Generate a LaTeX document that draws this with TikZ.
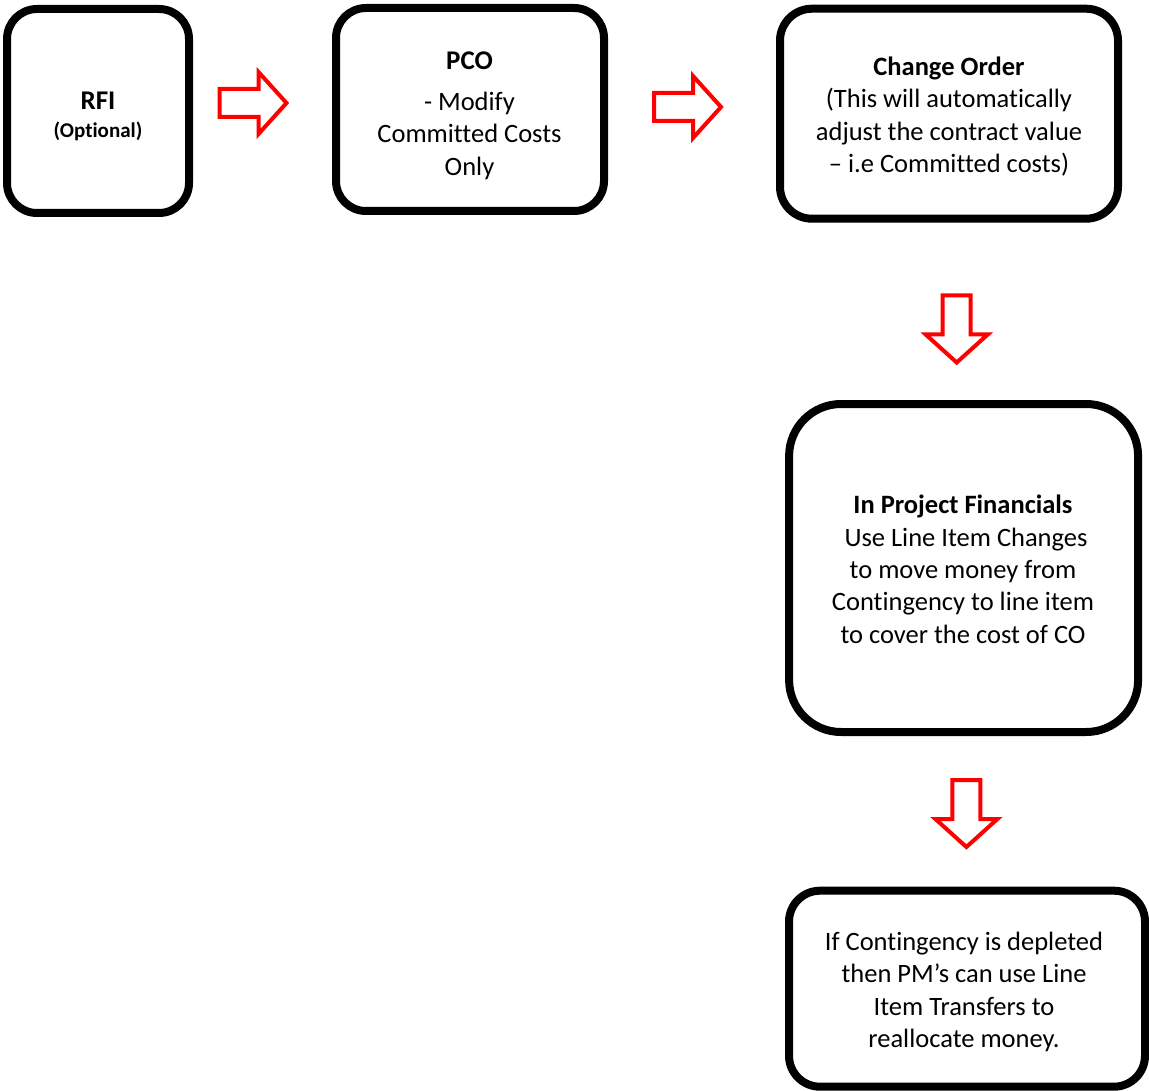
\documentclass[tikz,border=0pt]{standalone}
\usepackage{fontspec}
\setmainfont{Carlito}[Ligatures=NoCommon]
\begin{document}
\begin{tikzpicture}[x=1pt,y=-1pt,
  box/.style={draw=black, line width=8pt, fill=white, inner sep=0pt, rectangle},
  txt/.style={align=center, inner sep=0pt, anchor=base, text=black,
              font=\fontsize{26.5}{32.4}\selectfont},
  blockarr/.style={draw=red, line width=4pt, fill=white, line join=miter},
  rarrowpic/.pic={\draw[blockarr] (0,-14) -- (39,-14) -- (39,-31) -- (67,0) -- (39,31) -- (39,14) -- (0,14) -- cycle;},
  darrowpic/.pic={\draw[blockarr] (-14,0) -- (-14,39) -- (-31,39) -- (0,67) -- (31,39) -- (14,39) -- (14,0) -- cycle;}
]
\useasboundingbox (0,0) rectangle (1149,1091);

% boxes
\node[box, minimum width=182pt, minimum height=204pt, rounded corners=30pt] (rfi) at (98,111) {};
\node[box, minimum width=268pt, minimum height=203pt, rounded corners=30pt] (pco) at (470,109.5) {};
\node[box, minimum width=338pt, minimum height=210pt, rounded corners=32pt] (co) at (949,113.7) {};
\node[box, minimum width=349pt, minimum height=328pt, rounded corners=52pt] (fin) at (963.6,568) {};
\node[box, minimum width=356pt, minimum height=196pt, rounded corners=31pt] (cont) at (967,988.7) {};

% texts (base anchor = baseline of the last line)
\node[txt, font=\fontsize{27}{32.4}\selectfont\bfseries] (rfit) at (98,109.5) {RFI};
\node[txt, font=\fontsize{21}{25}\selectfont\bfseries] (rfio) at (98,138) {(Optional)};

\node[txt, font=\fontsize{27}{32.4}\selectfont\bfseries] (pcot) at (469.5,69.5) {PCO};
\node[txt] (pcob) at (469.5,175.3) {- Modify\\Committed Costs\\Only};

\node[txt] (cot) at (949,172.5) {\textbf{Change Order}\\(This will automatically\\adjust the contract value\\– i.e Committed costs)};

\node[txt] (fint) at (963,643.2) {\textbf{In Project Financials}\\\hspace*{6pt}Use Line Item Changes\\to move money from\\Contingency to line item\\to cover the cost of CO};

\node[txt] (contt) at (964,1047.5) {If Contingency is depleted\\then PM’s can use Line\\Item Transfers to\\reallocate money.};

% block arrows
\pic at (219.5,103) {rarrowpic};
\pic at (654,107) {rarrowpic};
\pic at (956.7,295.5) {darrowpic};
\pic at (966.4,780) {darrowpic};
\end{tikzpicture}
\end{document}
